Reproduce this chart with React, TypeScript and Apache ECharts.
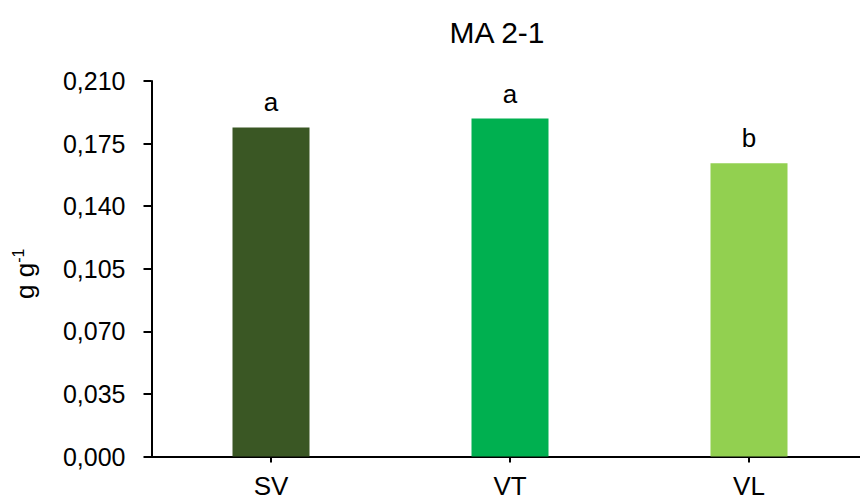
import React, { useEffect, useRef } from "react";
import * as echarts from "echarts";

const categories = ["SV", "VT", "VL"];
const values = [0.184, 0.189, 0.164];
const letters = ["a", "a", "b"];
const colors = ["#3A5724", "#00B050", "#92D050"];
const yTicks = { min: 0, max: 0.21, interval: 0.035 };

export default function App() {
  const ref = useRef<HTMLDivElement>(null);
  useEffect(() => {
    if (!ref.current) return;
    const chart = echarts.init(ref.current, undefined, { renderer: "svg" });
    const font = "'Liberation Sans', Arial, sans-serif";
    chart.setOption({
      animation: false,
      title: {
        text: "MA 2-1",
        left: 492,
        top: 12,
        textAlign: "center",
        textStyle: { fontFamily: font, fontSize: 30, fontWeight: "normal", color: "#000" },
      },
      grid: { left: 151.5, width: 717, top: 81, bottom: 43.5, outerBoundsMode: "none", containLabel: false },
      xAxis: {
        type: "category",
        data: categories,
        axisLine: { show: true, lineStyle: { color: "#000", width: 2 } },
        axisTick: { show: true, alignWithLabel: true, length: 6, lineStyle: { color: "#000", width: 2 } },
        axisLabel: { color: "#000", fontFamily: font, fontSize: 26, margin: 16 },
      },
      yAxis: {
        type: "value",
        min: yTicks.min,
        max: yTicks.max,
        interval: yTicks.interval,
        splitLine: { show: false },
        axisLine: { show: true, lineStyle: { color: "#000", width: 2 } },
        axisTick: { show: true, length: 8, inside: false, lineStyle: { color: "#000", width: 2 } },
        axisLabel: {
          color: "#000",
          fontFamily: font,
          fontSize: 25,
          margin: 26,
          formatter: (v: number) => v.toFixed(3).replace(".", ","),
        },
        name: "{a|g g}{s|-1}",
        nameLocation: "middle",
        nameGap: 113,
        nameRotate: 90,
        nameTextStyle: {
          rich: {
            a: { fontFamily: font, fontSize: 26, color: "#000" },
            s: { fontFamily: font, fontSize: 16, color: "#000", verticalAlign: "top", padding: [0, 10, 12, 0] },
          },
        },
      },
      series: [
        {
          type: "bar",
          barWidth: 77,
          data: values.map((v, i) => ({ value: v, itemStyle: { color: colors[i] } })),
          label: {
            show: true,
            position: "top",
            distance: 12,
            color: "#000",
            fontFamily: font,
            fontSize: 26,
            formatter: (p: any) => letters[p.dataIndex],
          },
        },
      ],
    });
    return () => chart.dispose();
  }, []);
  return <div ref={ref} style={{ width: 860, height: 500, position: "absolute", left: 0, top: 0 }} />;
}
